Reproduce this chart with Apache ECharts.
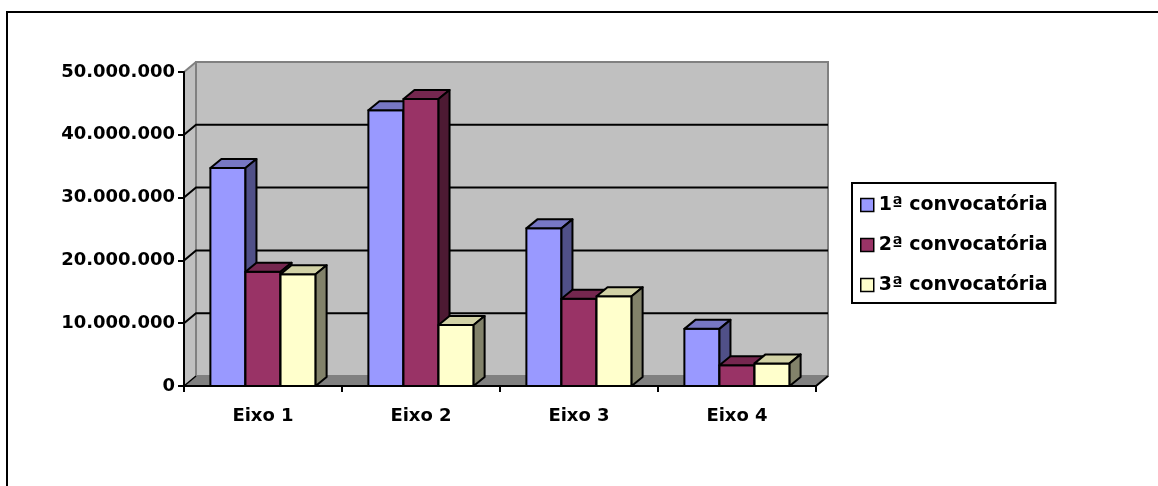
<!DOCTYPE html>
<html><head><meta charset="utf-8">
<script src="https://cdn.jsdelivr.net/npm/echarts@6/dist/echarts.min.js"></script>
<style>html,body{margin:0;padding:0;background:#fff}#c{width:1158px;height:486px}</style>
</head><body><div id="c"></div>
<script>
const categories = ['Eixo 1', 'Eixo 2', 'Eixo 3', 'Eixo 4'];
const seriesNames = ['1ª convocatória', '2ª convocatória', '3ª convocatória'];
const conv1 = [34700000, 43900000, 25100000, 9100000];
const conv2 = [18200000, 45700000, 13900000, 3300000];
const conv3 = [17800000, 9700000, 14300000, 3600000];
const yTicks = [0, 10000000, 20000000, 30000000, 40000000, 50000000];

const seriesValues = [conv1, conv2, conv3];
const FRONT = ['#9999FF', '#993366', '#FFFFCC'];
const TOP = ['#7777C4', '#75274F', '#D2D2A6'];
const SIDE = ['#505088', '#4D1A33', '#82826A'];
const WDX = 12, WDY = -10;   // wall depth
const BDX = 11, BDY = -9;    // bar depth
const BAR_FRAC = 0.222;
const FONT = 'DejaVu Sans';
const YMAX = yTicks[yTicks.length - 1];

function fmt(v) { return String(v).replace(/\B(?=(\d{3})+(?!\d))/g, '.'); }

function renderWall(params, api) {
  const cs = params.coordSys;
  const x0 = cs.x, x1 = cs.x + cs.width, yT = cs.y, yB = cs.y + cs.height;
  const ch = [];
  ch.push({ type: 'polygon', shape: { points: [[x0 + WDX, yT + WDY], [x1 + WDX, yT + WDY], [x1 + WDX, yB + WDY], [x0 + WDX, yB + WDY]] },
    style: { fill: '#C0C0C0', stroke: '#808080', lineWidth: 2 } });
  ch.push({ type: 'polygon', shape: { points: [[x0, yT], [x0 + WDX, yT + WDY], [x0 + WDX, yB + WDY], [x0, yB]] },
    style: { fill: '#C0C0C0', stroke: null } });
  ch.push({ type: 'polyline', shape: { points: [[x0, yT], [x0 + WDX, yT + WDY]] }, style: { stroke: '#808080', lineWidth: 2, fill: null } });
  ch.push({ type: 'polyline', shape: { points: [[x0 + WDX, yT + WDY], [x0 + WDX, yB + WDY]] }, style: { stroke: '#808080', lineWidth: 2, fill: null } });
  yTicks.forEach(function (v) {
    if (v <= 0 || v >= YMAX) return;
    const y = api.coord([0, v])[1];
    ch.push({ type: 'polyline', shape: { points: [[x0, y], [x0 + WDX, y + WDY], [x1 + WDX, y + WDY]] },
      style: { stroke: '#000', lineWidth: 2, fill: null } });
  });
  ch.push({ type: 'polygon', shape: { points: [[x0, yB], [x1, yB], [x1 + WDX, yB + WDY], [x0 + WDX, yB + WDY]] },
    style: { fill: '#808080', stroke: null } });
  ch.push({ type: 'polyline', shape: { points: [[x0, yB], [x0 + WDX, yB + WDY]] }, style: { stroke: '#000', lineWidth: 1.5, fill: null } });
  ch.push({ type: 'polyline', shape: { points: [[x1, yB], [x1 + WDX, yB + WDY]] }, style: { stroke: '#000', lineWidth: 2, fill: null } });
  return { type: 'group', children: ch };
}

function makeBar(s) {
  return function (params, api) {
    const ci = api.value(0), v = api.value(1);
    const c = api.coord([ci, v]);
    const b = api.coord([ci, 0]);
    const band = api.size([1, 0])[0];
    const w = band * BAR_FRAC;
    const L = c[0] - 1.5 * w + s * w, R = L + w;
    const T = c[1], B = b[1];
    const st = { stroke: '#000', lineWidth: 2, lineJoin: 'round' };
    return { type: 'group', children: [
      { type: 'polygon', shape: { points: [[L, T], [R, T], [R, B], [L, B]] }, style: Object.assign({ fill: FRONT[s] }, st) },
      { type: 'polygon', shape: { points: [[L, T], [L + BDX, T + BDY], [R + BDX, T + BDY], [R, T]] }, style: Object.assign({ fill: TOP[s] }, st) },
      { type: 'polygon', shape: { points: [[R, T], [R + BDX, T + BDY], [R + BDX, B + BDY], [R, B]] }, style: Object.assign({ fill: SIDE[s] }, st) }
    ] };
  };
}

const series = [{
  type: 'custom', name: '_wall', renderItem: renderWall, data: [[0, 0]], encode: { x: 0, y: 1 }, z: 1, silent: true
}];
seriesValues.forEach(function (vals, s) {
  series.push({
    type: 'custom', name: seriesNames[s], renderItem: makeBar(s), z: 2,
    itemStyle: { color: FRONT[s] },
    data: vals.map(function (v, i) { return [i, v]; }),
    encode: { x: 0, y: 1 }
  });
});

const chart = echarts.init(document.getElementById('c'), null, { renderer: 'canvas' });
chart.setOption({
  animation: false,
  backgroundColor: '#fff',
  graphic: [{ type: 'rect', z: -10, silent: true, shape: { x: 7, y: 12, width: 1300, height: 600 },
    style: { fill: null, stroke: '#000', lineWidth: 2 } }],
  grid: { left: 184, right: 342, top: 72, bottom: 100, containLabel: false },
  legend: {
    data: seriesNames, orient: 'vertical', left: 852, top: 183,
    padding: [12, 8, 8, 8], borderColor: '#000', borderWidth: 2, backgroundColor: '#fff',
    itemWidth: 13, itemHeight: 13, itemGap: 20, icon: 'rect',
    itemStyle: { borderColor: '#000', borderWidth: 1.5 },
    textStyle: { fontFamily: FONT, fontWeight: 'bold', fontSize: 19, lineHeight: 20, color: '#000' }
  },
  xAxis: {
    type: 'category', data: categories, boundaryGap: true, z: 5,
    axisLine: { show: true, lineStyle: { color: '#000', width: 2 } },
    axisTick: { show: true, length: 6, lineStyle: { color: '#000', width: 2 } },
    axisLabel: { margin: 21, fontFamily: FONT, fontWeight: 'bold', fontSize: 18, color: '#000' },
    splitLine: { show: false }
  },
  yAxis: {
    type: 'value', min: 0, max: YMAX, interval: 10000000, z: 5,
    axisLine: { show: true, lineStyle: { color: '#000', width: 2 } },
    axisTick: { show: true, length: 6, lineStyle: { color: '#000', width: 2 } },
    axisLabel: { margin: 9, fontFamily: FONT, fontWeight: 'bold', fontSize: 18, color: '#000', formatter: fmt },
    splitLine: { show: false }
  },
  series: series
});
</script>
</body></html>
